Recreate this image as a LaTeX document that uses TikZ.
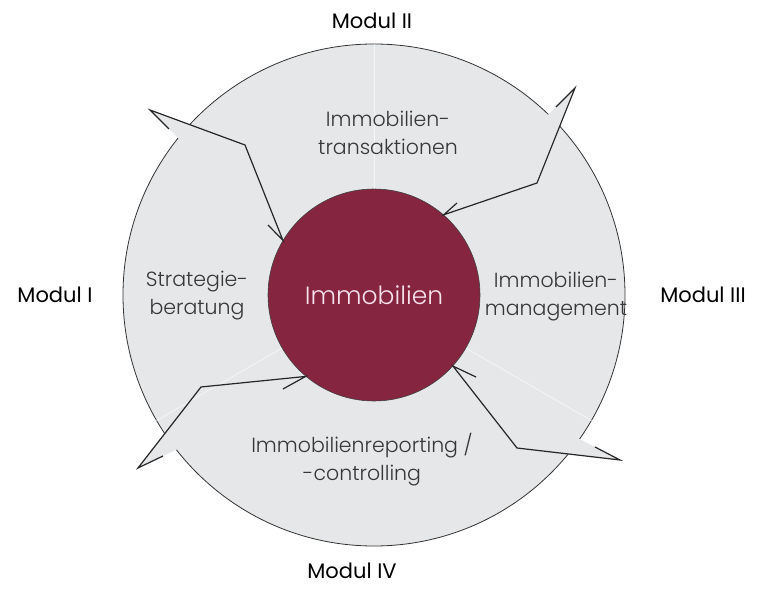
\documentclass[tikz,border=0pt]{standalone}
\usepackage{fontspec}
\setmainfont{Poppins}
\newfontfamily\leicht{Poppins Light}
\usetikzlibrary{calc}
\definecolor{kreisgrau}{RGB}{229,231,233}
\definecolor{weinrot}{RGB}{134,37,64}
\definecolor{textgrau}{RGB}{55,55,55}
\definecolor{zartrosa}{RGB}{246,226,236}

\begin{document}
\begin{tikzpicture}[x=1pt,y=-1pt,
    modlabel/.style={font=\fontsize{21}{25}\selectfont, text=black},
    seglabel/.style={font=\leicht\fontsize{20.5}{28}\selectfont, text=textgrau, align=center},
    pfeil/.style={line width=1.2pt, draw=black!85, line join=miter}]
    \useasboundingbox (0,0) rectangle (764,601);

    % Outer ring
    \node[circle, draw=black!80, fill=kreisgrau, line width=0.8pt,
          minimum size=502pt, inner sep=0pt] (ring) at (374,295) {};

    % Arrow shapes (fill covers the ring outline)
    \coordinate (a1o) at (150,110);
    \coordinate (a1b) at (169,129);
    \coordinate (a1k) at (245,145);
    \coordinate (a1h) at (268,225);
    \fill[kreisgrau] (a1o) -- (a1k) -- ($(a1o)!2!(a1b)$) -- (a1b) -- cycle;

    \coordinate (a2o) at (575,88);
    \coordinate (a2b) at (556,107);
    \coordinate (a2k) at (537,183);
    \coordinate (a2h) at (457,203);
    \fill[kreisgrau] (a2o) -- (a2k) -- ($(a2o)!2!(a2b)$) -- (a2b) -- cycle;

    \coordinate (a3o) at (138,468);
    \coordinate (a3b) at (163,456);
    \coordinate (a3k) at (201,387);
    \coordinate (a3h) at (283,389);
    \fill[kreisgrau] (a3o) -- (a3k) -- ($(a3o)!2!(a3b)$) -- (a3b) -- cycle;

    \coordinate (a4o) at (620,460);
    \coordinate (a4b) at (595,447);
    \coordinate (a4k) at (517,448);
    \coordinate (a4h) at (476,377);
    \fill[kreisgrau] (a4o) -- (a4k) -- ($(a4o)!2!(a4b)$) -- (a4b) -- cycle;

    % Core
    \node[circle, draw=black!75, fill=weinrot, line width=0.6pt,
          minimum size=212pt, inner sep=0pt,
          font=\leicht\fontsize{25}{30}\selectfont, text=zartrosa] (kern) at (374,295) {Immobilien};

    % Faint segment dividers
    \draw[white, line width=0.8pt, opacity=0.6] (kern.90) -- (ring.90);
    \draw[white, line width=0.8pt, opacity=0.6] (kern.210) -- (ring.210);
    \draw[white, line width=0.8pt, opacity=0.6] (kern.330) -- (ring.330);

    % Arrow outlines
    \draw[pfeil] (a1b) -- (a1o) -- (a1k) -- (kern.149) -- (a1h);
    \draw[pfeil] (a2b) -- (a2o) -- (a2k) -- (kern.49) -- (a2h);
    \draw[pfeil] (a3b) -- (a3o) -- (a3k) -- (kern.230) -- (a3h);
    \draw[pfeil] (a4b) -- (a4o) -- (a4k) -- (kern.318) -- (a4h);

    % Segment labels
    \node[seglabel] (transak) at (388,133) {Immobilien-\\transaktionen};
    \node[seglabel] (strat) at (197,296) {Strategie-\\beratung};
    \node[seglabel] (mgmt) at (556,297) {Immobilien-\\management};
    \node[seglabel] (report) at (362,460) {Immobilienreporting /\\-controlling};

    % Module labels
    \node[modlabel] (mod1) at (55,295) {Modul I};
    \node[modlabel] (mod2) at (372,21) {Modul II};
    \node[modlabel] (mod3) at (703,295) {Modul III};
    \node[modlabel] (mod4) at (352,571) {Modul IV};
\end{tikzpicture}
\end{document}
